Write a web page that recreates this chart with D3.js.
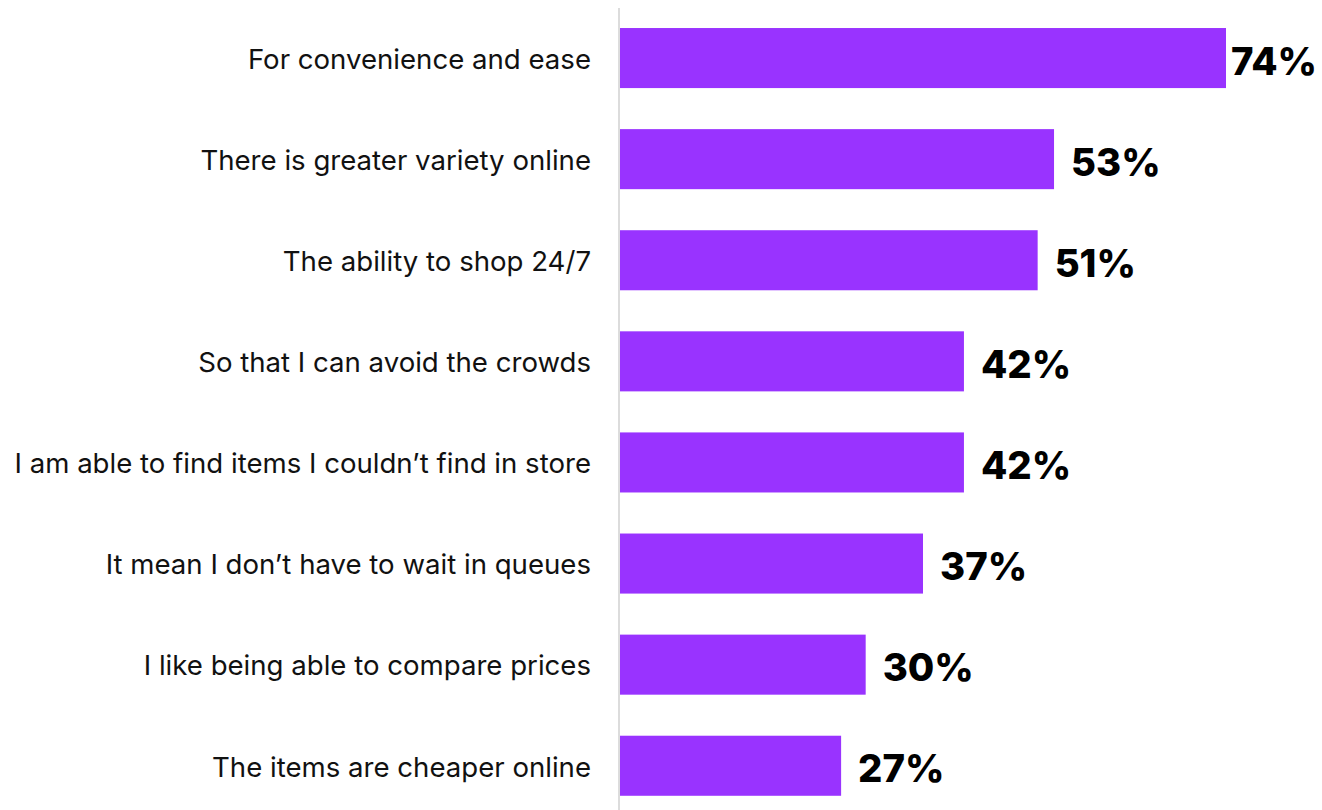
<!DOCTYPE html>
<html>
<head>
<meta charset="utf-8">
<script src="https://cdn.jsdelivr.net/npm/d3@7"></script>
<style>
  html, body { margin: 0; padding: 0; background: #fff; }
  svg { display: block; }
</style>
</head>
<body>
<svg id="chart" width="1322" height="810"></svg>
<script>
// Reasons for shopping online, share of respondents (%)
const categories = [
  "For convenience and ease",
  "There is greater variety online",
  "The ability to shop 24/7",
  "So that I can avoid the crowds",
  "I am able to find items I couldn\u2019t find in store",
  "It mean I don\u2019t have to wait in queues",
  "I like being able to compare prices",
  "The items are cheaper online"
];
const values = [74, 53, 51, 42, 42, 37, 30, 27];
const valueLabels = values.map(v => v + "%");

const W = 1322, H = 810;
const svg = d3.select("#chart");

const x = d3.scaleLinear().domain([0, 74]).range([620, 1226]);
const y = d3.scaleBand()
  .domain(categories)
  .range([7.5, 816.3])
  .paddingInner(0.406)
  .paddingOuter(0.203);

// vertical baseline
svg.append("line")
  .attr("x1", 619).attr("x2", 619)
  .attr("y1", 8).attr("y2", H)
  .attr("stroke", "#dcdcdc")
  .attr("stroke-width", 2);

// bars
svg.selectAll("rect.bar")
  .data(values)
  .join("rect")
  .attr("class", "bar")
  .attr("x", x(0))
  .attr("y", (d, i) => y(categories[i]))
  .attr("width", d => x(d) - x(0))
  .attr("height", y.bandwidth())
  .attr("fill", "#9933ff");

// category labels
const yAxis = d3.axisLeft(y).tickSize(0).tickPadding(0);
const gAxis = svg.append("g")
  .attr("transform", "translate(591,2)")
  .call(yAxis);
gAxis.select(".domain").remove();
gAxis.selectAll("text")
  .attr("fill", "#111")
  .style("font-family", "Inter, 'Noto Sans', sans-serif")
  .style("font-size", "27.6px");

// value labels, kept inside the right edge
const vl = svg.selectAll("text.val")
  .data(values)
  .join("text")
  .attr("class", "val")
  .attr("y", (d, i) => y(categories[i]) + y.bandwidth() / 2)
  .attr("dy", "0.43em")
  .attr("fill", "#000")
  .style("font-family", "Inter, 'Noto Sans', sans-serif")
  .style("font-weight", "800")
  .style("font-size", "38.3px")
  .text((d, i) => valueLabels[i]);
vl.attr("x", function(d) {
  const w = this.getComputedTextLength();
  return Math.min(x(d) + 17, W - 5 - w);
});
</script>
</body>
</html>
